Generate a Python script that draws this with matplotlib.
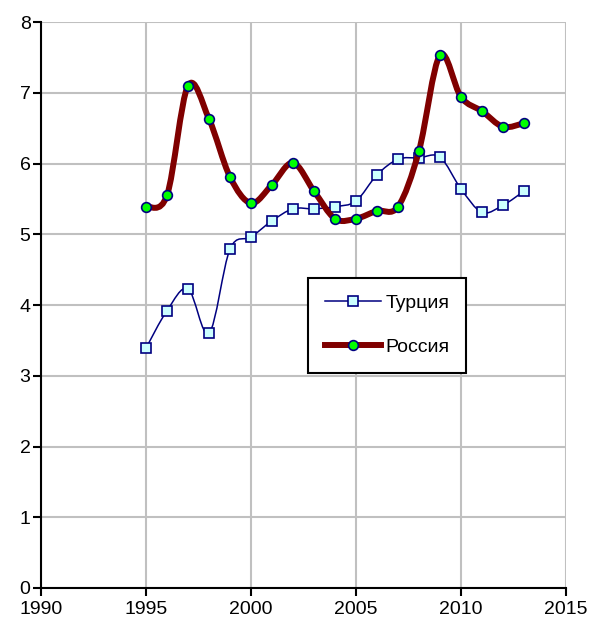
import numpy as np
import matplotlib.pyplot as plt
from matplotlib.path import Path
from matplotlib.patches import PathPatch
from matplotlib.lines import Line2D

plt.rcParams['font.family'] = ['Liberation Sans', 'DejaVu Sans']

years = list(range(1995, 2014))
turkey = [3.39, 3.92, 4.23, 3.60, 4.79, 4.96, 5.19, 5.36, 5.36, 5.39,
          5.47, 5.84, 6.06, 6.08, 6.09, 5.64, 5.31, 5.41, 5.61]
russia = [5.39, 5.55, 7.10, 6.63, 5.81, 5.44, 5.70, 6.01, 5.61, 5.22,
          5.22, 5.33, 5.39, 6.18, 7.53, 6.94, 6.74, 6.52, 6.57]


# smoothed line like excel: cubic bezier segments through the points
def smooth_path(x, y):
    pts = np.column_stack([x, y]).astype(float)
    n = len(pts)
    verts = [pts[0]]
    codes = [Path.MOVETO]
    for i in range(n - 1):
        p0 = pts[i - 1] if i > 0 else pts[i]
        p1 = pts[i]
        p2 = pts[i + 1]
        p3 = pts[i + 2] if i + 2 < n else pts[i + 1]
        c1 = p1 + (p2 - p0) / 6
        c2 = p2 - (p3 - p1) / 6
        verts += [c1, c2, p2]
        codes += [Path.CURVE4] * 3
    return Path(verts, codes)


fig = plt.figure(figsize=(5.9, 6.24), dpi=100)
ax = fig.add_axes([0.0695, 0.0577, 0.8898, 0.907])

ax.add_patch(PathPatch(smooth_path(years, turkey), fill=False,
                       edgecolor='#000080', lw=1.1, zorder=3))
ax.plot(years, turkey, ls='none', marker='s', ms=7.5, mfc='#ccffff',
        mec='#000080', mew=1.2, zorder=4)

ax.add_patch(PathPatch(smooth_path(years, russia), fill=False,
                       edgecolor='#800000', lw=4.3, zorder=5,
                       capstyle='round', joinstyle='round'))
ax.plot(years, russia, ls='none', marker='o', ms=7, mfc='#00ff00',
        mec='#000080', mew=1.2, zorder=6)

ax.set_xlim(1990, 2015)
ax.set_ylim(0, 8)
ax.set_xticks(range(1990, 2016, 5))
ax.set_yticks(range(0, 9))
ax.grid(True, color='#c0c0c0', lw=1.5)
ax.set_axisbelow(True)
for s in ['top', 'right']:
    ax.spines[s].set_visible(False)
for s in ['left', 'bottom']:
    ax.spines[s].set_linewidth(1.5)
ax.tick_params(direction='out', length=5.5, width=1.5, labelsize=14, pad=2)
ax.tick_params(axis='x', pad=4)

handles = [
    Line2D([], [], color='#000080', lw=1.1, marker='s', ms=7.5,
           mfc='#ccffff', mec='#000080', mew=1.2),
    Line2D([], [], color='#800000', lw=4.3, marker='o', ms=7,
           mfc='#00ff00', mec='#000080', mew=1.2),
]
leg = ax.legend(handles, ['Турция', 'Россия'], loc='upper left',
                bbox_to_anchor=(0.5086, 0.5477), borderaxespad=0,
                fontsize=14, fancybox=False,
                framealpha=1, edgecolor='black', borderpad=0.85,
                labelspacing=1.35, handlelength=2.9, handletextpad=0.25)
leg.get_frame().set_linewidth(1.5)

fig.savefig('out.png', dpi=100)
